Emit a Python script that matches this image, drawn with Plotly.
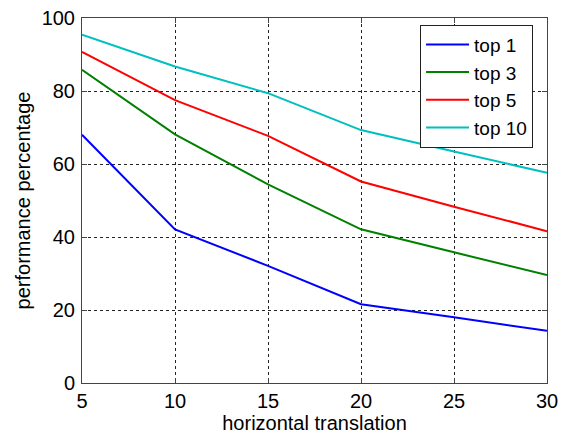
import plotly.graph_objects as go

x_vals = [5, 10, 15, 20, 25, 30]
top1 = [68.0, 42.1, 32.1, 21.6, 18.0, 14.3]
top3 = [85.8, 68.1, 54.4, 42.1, 35.8, 29.6]
top5 = [90.7, 77.5, 67.7, 55.2, 48.3, 41.6]
top10 = [95.4, 86.7, 79.4, 69.3, 63.4, 57.6]

series_names = ["top 1", "top 3", "top 5", "top 10"]
series_vals = [top1, top3, top5, top10]
colors = ["#0000FF", "#008000", "#FF0000", "#00BFBF"]

x_ticks = [5, 10, 15, 20, 25, 30]
y_ticks = [0, 20, 40, 60, 80, 100]

fig = go.Figure()
for name, vals, c in zip(series_names, series_vals, colors):
    fig.add_trace(go.Scatter(x=x_vals, y=vals, mode="lines", name=name,
                             line=dict(color=c, width=2)))

font_family = "Liberation Sans, Arial, sans-serif"
FS = 20
axis_common = dict(
    showline=True, linecolor="#444", linewidth=1, mirror="ticks",
    ticks="inside", ticklen=5, tickcolor="#444",
    showgrid=True, gridcolor="#222", gridwidth=1, griddash="3px,3px",
    zeroline=False, automargin=False, ticklabeloverflow="allow",
    tickfont=dict(size=FS, color="black", family=font_family),
)

fig.update_xaxes(range=[5, 30], tickvals=x_ticks,
                 title=dict(text="horizontal translation", standoff=2,
                            font=dict(size=FS, color="black", family=font_family)),
                 **axis_common)
fig.update_yaxes(range=[0, 100], tickvals=y_ticks, ticklabelstandoff=2,
                 title=dict(text="performance percentage", standoff=5,
                            font=dict(size=FS, color="black", family=font_family)),
                 **axis_common)

# page body has an 8px default margin, so the figure is offset by 8px
fig.update_layout(
    width=559, height=427,
    margin=dict(l=74, r=20, t=10, b=52),
    paper_bgcolor="white", plot_bgcolor="white",
    font=dict(family=font_family, size=FS, color="black"),
    showlegend=True,
    legend=dict(x=0.97, y=0.982, xanchor="right", yanchor="top",
                bgcolor="white", bordercolor="#222", borderwidth=1,
                font=dict(size=19, color="black", family=font_family),
                tracegroupgap=0, itemwidth=43),
)

fig.write_html("out.html")
